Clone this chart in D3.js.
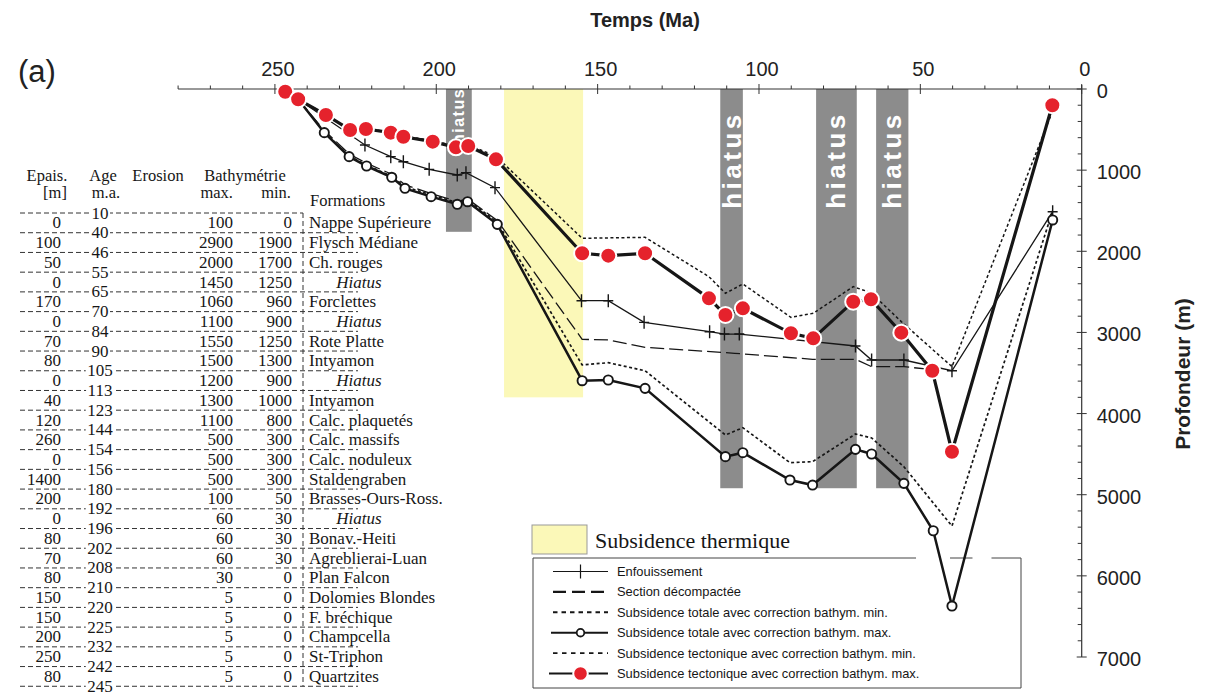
<!DOCTYPE html>
<html><head><meta charset="utf-8">
<script src="https://cdn.jsdelivr.net/npm/d3@7"></script>
<style>body{margin:0;background:#fff}svg{display:block}</style>
</head><body>
<svg id="c" width="1214" height="699"></svg>
<script>
// ---------- axis ticks ----------
const xTickLabels = [250, 200, 150, 100, 50, 0];
const yTickLabels = [0, 1000, 2000, 3000, 4000, 5000, 6000, 7000];

// ---------- series (age in Ma, depth in m) ----------
const tectMaxAge   = [246.8,242.8,234.2,226.7,221.8,214.1,210.2,201.1,193.9,190.1,181.5,154.8,146.7,135.3,115.5,110.4,105,90.1,83.2,70.8,65.3,55.9,46.3,40.2,9.1];
const tectMaxDepth = [33,127,320,505,493,538,588,649,719,702,867,2025,2054,2025,2580,2785,2703,3011,3073,2621,2592,3003,3472,4470,200];

const tectMinAge   = [242.8,234.2,226.7,221.8,214.1,210.2,201.1,193.9,190.1,181.5,154.8,135.3,115.5,110.4,105,90.1,83.2,70.8,65.3,55.9,40.2,9.1];
const tectMinDepth = [127,315,500,488,530,578,637,705,688,830,1840,1828,2313,2518,2403,2814,2765,2436,2510,2867,3422,280];

const totMaxAge   = [242.8,234.7,227,221.6,213.8,209.7,201.6,193.5,190.3,181.1,154.8,146.7,135.3,110.4,105,90.4,83.4,70.1,65.1,55.1,46,40.2,9];
const totMaxDepth = [127,538,834,949,1088,1224,1327,1421,1389,1668,3595,3586,3689,4531,4482,4819,4881,4441,4498,4860,5444,6372,1614];

const totMinAge   = [242.8,234.7,227,221.6,213.8,209.7,201.6,193.5,190.3,181.1,154.8,146.7,135.3,110.4,105,90.4,83.4,70.1,65.1,55.1,40.2,9];
const totMinDepth = [127,530,825,940,1075,1205,1305,1400,1368,1640,3401,3373,3472,4264,4174,4605,4593,4252,4300,4655,5386,1500];

const burialAge   = [242.8,222.1,214.1,210.2,202.2,193.5,190.8,181.8,155,146.7,135.6,115.3,110.7,106.1,70.1,65.1,55.1,40.2,9];
const burialDepth = [127,690,834,896,990,1060,1031,1216,2609,2609,2876,2991,3020,3020,3167,3340,3340,3472,1512];

const decompAge   = [242.8,234.7,227,221.6,213.8,209.7,201.6,193.5,190.3,181.1,154.8,146.5,135.3,107.5,83.4,70.1,65.1,55.1,46];
const decompDepth = [127,510,800,915,1050,1180,1290,1385,1355,1620,3085,3093,3183,3257,3331,3331,3422,3422,3460];

// ---------- bands ----------
const hiatusFrom  = [197, 112, 82.3, 63.7];
const hiatusTo    = [189, 105, 69.7, 53.7];
const hiatusDepth = [1760, 4920, 4920, 4920];
const thermalFrom = 179, thermalTo = 154.5, thermalDepth = 3800;

// ---------- table ----------
const tableAges = [10,40,46,55,65,70,84,90,105,113,123,144,154,156,180,192,196,202,208,210,220,225,232,242,245];
const tableEpais = [0,100,50,0,170,0,70,80,0,40,120,260,0,1400,200,0,80,70,80,150,150,200,250,80];
const tableBathyMax = [100,2900,2000,1450,1060,1100,1550,1500,1200,1300,1100,500,500,500,100,60,60,60,30,5,5,5,5,5];
const tableBathyMin = [0,1900,1700,1250,960,900,1250,1300,900,1000,800,300,300,300,50,30,30,30,0,0,0,0,0,0];
const tableFormations = ["Nappe Supérieure","Flysch Médiane","Ch. rouges","Hiatus","Forclettes","Hiatus","Rote Platte","Intyamon","Hiatus","Intyamon","Calc. plaquetés","Calc. massifs","Calc. noduleux","Staldengraben","Brasses-Ours-Ross.","Hiatus","Bonav.-Heiti","Agreblierai-Luan","Plan Falcon","Dolomies Blondes","F. bréchique","Champcella","St-Triphon","Quartzites"];

const legendLabels = ["Enfouissement","Section  décompactée","Subsidence totale avec correction bathym. min.","Subsidence totale avec correction bathym. max.","Subsidence tectonique avec correction bathym. min.","Subsidence tectonique avec correction bathym. max."];

// ---------- drawing ----------
const svg = d3.select('#c');
const INK = '#161616';
const SANS = 'Liberation Sans, Arial, Helvetica, sans-serif';
const SERIF = 'Liberation Serif, Times New Roman, serif';

const x = d3.scaleLinear().domain([280, 0]).range([178.1, 1081.7]);
const y = d3.scaleLinear().domain([0, 7000]).range([89, 657]);

const zip = (a, d) => a.map((v, i) => [v, d[i]]);
const line = d3.line().x(p => x(p[0])).y(p => y(p[1]));

// bands
const g0 = svg.append('g');
g0.append('rect').attr('x', x(thermalFrom)).attr('y', y(0))
  .attr('width', x(thermalTo) - x(thermalFrom)).attr('height', y(thermalDepth) - y(0))
  .attr('fill', '#fbf8b8');
hiatusFrom.forEach((h, i) => {
  g0.append('rect').attr('x', x(h)).attr('y', y(0))
    .attr('width', x(hiatusTo[i]) - x(h)).attr('height', y(hiatusDepth[i]) - y(0))
    .attr('fill', '#8c8c8c');
  const cx = (x(h) + x(hiatusTo[i])) / 2;
  const small = i === 0;
  const cy = small ? y(0) + 27 : y(0) + 71;
  g0.append('text').attr('transform', `translate(${cx + (small ? 5 : 9)},${cy}) rotate(-90)`)
    .attr('text-anchor', 'middle').attr('fill', '#fff')
    .attr('font-family', SANS).attr('font-weight', 'bold')
    .attr('font-size', small ? 16 : 26).attr('letter-spacing', small ? 1.5 : 3.5)
    .text('hiatus');
});

// axes
const ax = svg.append('g').attr('stroke', '#333').attr('fill', 'none');
ax.append('line').attr('x1', x(280)).attr('x2', x(0)).attr('y1', y(0)).attr('y2', y(0)).attr('stroke-width', 1);
d3.range(280, -1, -10).forEach(t => {
  if (t % 50 === 0) ax.append('line').attr('x1', x(t)).attr('x2', x(t)).attr('y1', y(0) - 5).attr('y2', y(0) + 5);
  else ax.append('line').attr('x1', x(t)).attr('x2', x(t)).attr('y1', y(0) - 3.5).attr('y2', y(0));
});
ax.append('line').attr('x1', x(0)).attr('x2', x(0)).attr('y1', y(0) - 4).attr('y2', y(7000)).attr('stroke-width', 1.2);
d3.range(0, 7001, 200).forEach(d => {
  if (d % 1000 === 0) ax.append('line').attr('x1', x(0) - 5).attr('x2', x(0) + 5).attr('y1', y(d)).attr('y2', y(d));
  else ax.append('line').attr('x1', x(0) - 4).attr('x2', x(0)).attr('y1', y(d)).attr('y2', y(d));
});
svg.append('g').selectAll('text').data(xTickLabels).join('text')
  .attr('x', d => x(d) + 3).attr('y', 76).attr('text-anchor', 'middle')
  .attr('font-family', SANS).attr('font-size', 20).attr('fill', '#222').text(d => d);
svg.append('g').selectAll('text').data(yTickLabels).join('text')
  .attr('x', x(0) + 15).attr('y', d => y(d) + 9).attr('text-anchor', 'start')
  .attr('font-family', SANS).attr('font-size', 20).attr('fill', '#222').text(d => d);

svg.append('text').attr('x', 645).attr('y', 27).attr('text-anchor', 'middle')
  .attr('font-family', SANS).attr('font-weight', 'bold').attr('font-size', 20).attr('fill', '#222').text('Temps (Ma)');
svg.append('text').attr('transform', 'translate(1190,374) rotate(-90)').attr('text-anchor', 'middle')
  .attr('font-family', SANS).attr('font-weight', 'bold').attr('font-size', 21).attr('fill', '#222').text('Profondeur (m)');
svg.append('text').attr('x', 18).attr('y', 82).attr('font-family', SANS).attr('font-size', 31).attr('fill', '#222').text('(a)');

// legend (box beneath lines)
const lg = svg.append('g');
lg.append('rect').attr('x', 532).attr('y', 525).attr('width', 55).attr('height', 29)
  .attr('fill', '#fbf8b8').attr('stroke', '#999').attr('stroke-width', 1);
lg.append('text').attr('x', 595).attr('y', 548).attr('font-family', SERIF).attr('font-size', 22)
  .attr('fill', INK).text('Subsidence thermique');
const bx0 = 533, bx1 = 1021, by0 = 558, by1 = 688;
lg.append('line').attr('x1', bx0).attr('x2', bx0).attr('y1', by0).attr('y2', by1).attr('stroke', '#444');
lg.append('line').attr('x1', bx1).attr('x2', bx1).attr('y1', by0).attr('y2', by1).attr('stroke', '#444');
lg.append('line').attr('x1', bx0).attr('x2', bx1).attr('y1', by1).attr('y2', by1).attr('stroke', '#444');
// top border broken where the V of totale max passes
const vA = [x(totMaxAge[20]), y(totMaxDepth[20])], vB = [x(totMaxAge[21]), y(totMaxDepth[21])], vC = [x(totMaxAge[22]), y(totMaxDepth[22])];
const cross1 = vA[0] + (by0 - vA[1]) / (vB[1] - vA[1]) * (vB[0] - vA[0]);
const cross2 = vB[0] + (by0 - vB[1]) / (vC[1] - vB[1]) * (vC[0] - vB[0]);
[[bx0, cross1 - 24], [cross1 + 10, cross2 + 8], [cross2 + 27, bx1]].forEach(s =>
  lg.append('line').attr('x1', s[0]).attr('x2', s[1]).attr('y1', by0).attr('y2', by0).attr('stroke', '#444'));

const plusPath = 'M-5,0H5M0,-6.5V6.5';

// lines
const L = svg.append('g').attr('fill', 'none').attr('stroke', INK);
L.append('path').datum(zip(totMinAge, totMinDepth)).attr('d', line).attr('stroke-width', 1.7).attr('stroke-dasharray', '3,2.5');
L.append('path').datum(zip(tectMinAge, tectMinDepth)).attr('d', line).attr('stroke-width', 1.5).attr('stroke-dasharray', '3,2.5');
L.append('path').datum(zip(decompAge, decompDepth)).attr('d', line).attr('stroke-width', 1.3).attr('stroke-dasharray', '14,5');
L.append('path').datum(zip(burialAge, burialDepth)).attr('d', line).attr('stroke-width', 1.3);
L.append('path').datum(zip(totMaxAge, totMaxDepth)).attr('d', line).attr('stroke-width', 2.5);
L.append('path').datum(zip(tectMaxAge, tectMaxDepth)).attr('d', line).attr('stroke-width', 3.2);

// markers
svg.append('g').selectAll('path').data(zip(burialAge, burialDepth).slice(1)).join('path')
  .attr('transform', p => `translate(${x(p[0])},${y(p[1])})`).attr('d', plusPath)
  .attr('stroke', INK).attr('stroke-width', 1.4).attr('fill', 'none');
svg.append('g').selectAll('circle').data(zip(totMaxAge, totMaxDepth).slice(1)).join('circle')
  .attr('cx', p => x(p[0])).attr('cy', p => y(p[1])).attr('r', 4.6)
  .attr('fill', '#fff').attr('stroke', INK).attr('stroke-width', 1.9);
svg.append('g').selectAll('circle').data(zip(tectMaxAge, tectMaxDepth)).join('circle')
  .attr('cx', p => x(p[0])).attr('cy', p => y(p[1])).attr('r', 8)
  .attr('fill', '#e5222c').attr('stroke', '#fff').attr('stroke-width', 2);

// legend entries
const ly0 = 571.5, ldy = 20.4, lx0 = 553, lx1 = 608;
legendLabels.forEach((t, i) => {
  const yy = ly0 + i * ldy;
  const g = lg.append('g');
  const ln = g.append('line').attr('x1', lx0).attr('x2', lx1).attr('y1', yy).attr('y2', yy).attr('stroke', INK);
  if (i === 0) { ln.attr('stroke-width', 1.2); g.append('path').attr('d', 'M0,-7V7').attr('transform', `translate(${(lx0 + lx1) / 2},${yy})`).attr('stroke', INK).attr('stroke-width', 1.2); }
  if (i === 1) ln.attr('stroke-width', 2.2).attr('stroke-dasharray', '13,6');
  if (i === 2) ln.attr('stroke-width', 2).attr('stroke-dasharray', '4.5,4');
  if (i === 3) { ln.attr('stroke-width', 2).attr('x1', lx0 - 2); g.append('circle').attr('cx', (lx0 + lx1) / 2).attr('cy', yy).attr('r', 3.8).attr('fill', '#fff').attr('stroke', INK).attr('stroke-width', 1.8); }
  if (i === 4) ln.attr('stroke-width', 1.6).attr('stroke-dasharray', '4.5,4.5');
  if (i === 5) { ln.attr('stroke-width', 2.2).attr('x1', lx0 - 4); g.append('circle').attr('cx', (lx0 + lx1) / 2).attr('cy', yy).attr('r', 7.3).attr('fill', '#e5222c').attr('stroke', '#fff').attr('stroke-width', 2); }
  g.append('text').attr('x', 617).attr('y', yy + 4.5).attr('font-family', SANS).attr('font-size', 12.9).attr('fill', INK).text(t);
});

// ---------- table ----------
const tb = svg.append('g').attr('font-family', SERIF).attr('font-size', 17).attr('fill', INK);
const sepY = k => 213 + k * 19.72;
const hdr = [["Epais.", 47, 176, 'middle'], ["[m]", 55, 193, 'middle'], ["Age", 103, 176, 'middle'], ["m.a.", 106, 193, 'middle'],
  ["Erosion", 158, 176, 'middle'], ["Bathymétrie", 245, 176, 'middle'], ["max.", 233, 193, 'end'], ["min.", 291, 193, 'end'], ["Formations", 310, 201, 'start']];
hdr.forEach(h => tb.append('text').attr('x', h[1]).attr('y', h[2] + 5).attr('font-size', 16.5).attr('text-anchor', h[3]).text(h[0]));
tableAges.forEach((a, k) => {
  tb.append('line').attr('x1', 20).attr('x2', k === 0 ? 303 : 358).attr('y1', sepY(k)).attr('y2', sepY(k))
    .attr('stroke', '#333').attr('stroke-width', 1).attr('stroke-dasharray', '5,3');
});
tb.append('line').attr('x1', 303).attr('x2', 303).attr('y1', sepY(0)).attr('y2', sepY(24))
  .attr('stroke', '#333').attr('stroke-width', 1).attr('stroke-dasharray', '5,3');
tableAges.forEach((a, k) => {
  const t = tb.append('text').attr('x', 100).attr('y', sepY(k) + 5.5).attr('text-anchor', 'middle').text(a);
  const w = t.node().getComputedTextLength();
  tb.insert('rect', () => t.node()).attr('x', 100 - w / 2 - 1.5).attr('y', sepY(k) - 3).attr('width', w + 3).attr('height', 6).attr('fill', '#fff');
});
tableFormations.forEach((f, k) => {
  const cy = sepY(k) + 19.72 / 2 + 5.5;
  tb.append('text').attr('x', 61).attr('y', cy).attr('text-anchor', 'end').text(tableEpais[k]);
  tb.append('text').attr('x', 233).attr('y', cy).attr('text-anchor', 'end').text(tableBathyMax[k]);
  tb.append('text').attr('x', 292).attr('y', cy).attr('text-anchor', 'end').text(tableBathyMin[k]);
  if (f === 'Hiatus') tb.append('text').attr('x', 359).attr('y', cy).attr('text-anchor', 'middle').attr('font-style', 'italic').text(f);
  else tb.append('text').attr('x', 309).attr('y', cy).text(f);
});
</script>
</body></html>
